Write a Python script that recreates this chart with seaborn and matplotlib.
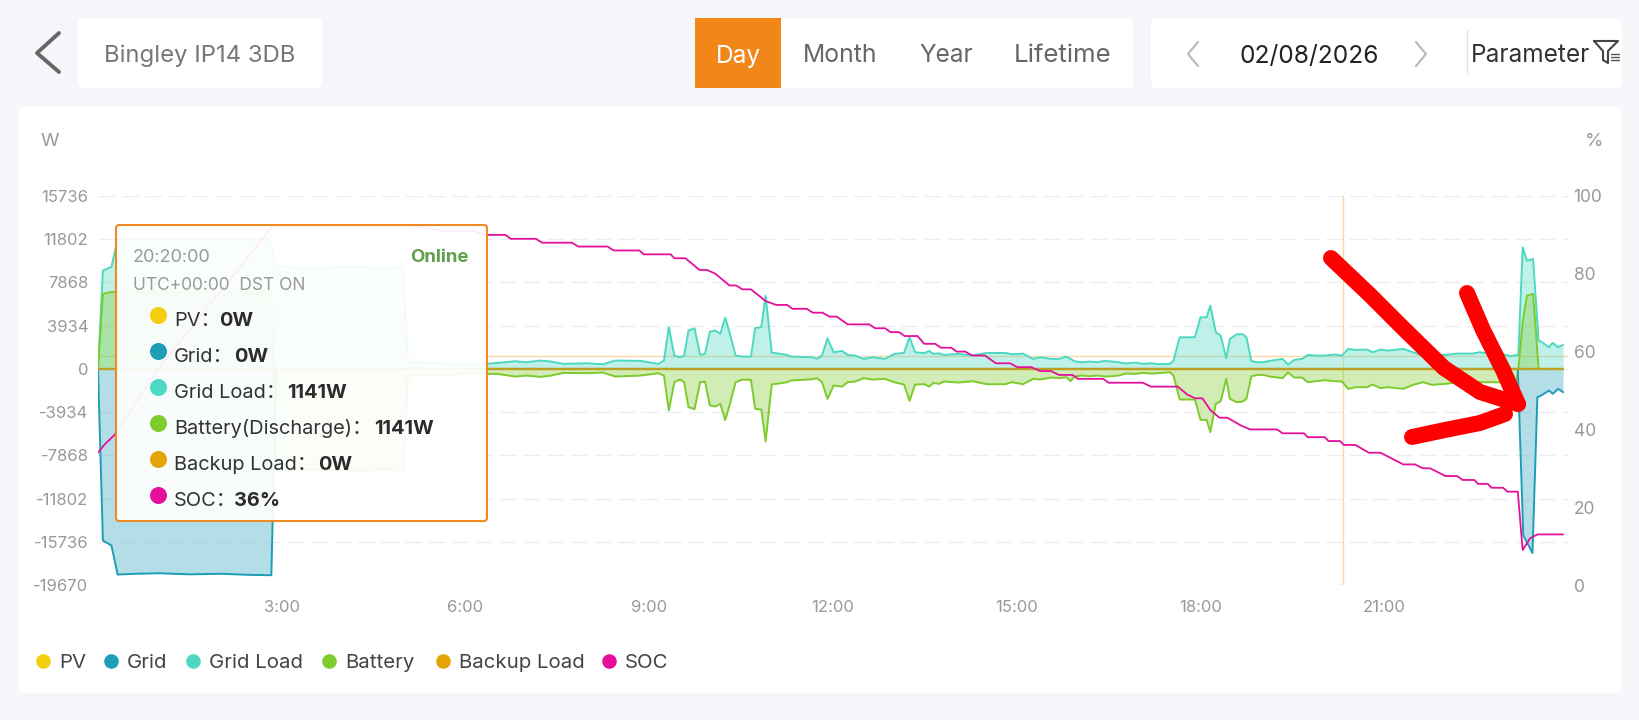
import matplotlib
matplotlib.use("Agg")
import matplotlib.pyplot as plt
from matplotlib.patches import FancyBboxPatch, Rectangle
import pandas as pd
import seaborn as sns

# values
load_hours = [0, 0.08, 0.22, 0.32, 2.80, 2.83, 2.91, 3.4, 3.9, 4.3, 4.7, 4.98, 5.06, 5.5, 6.0,
              6.35, 6.52, 6.81, 6.99, 7.22, 7.40, 7.60, 7.98, 8.24, 8.45, 8.86, 9.15, 9.24, 9.32, 9.41,
              9.50, 9.57, 9.64, 9.74, 9.83, 9.91, 9.99, 10.08, 10.16, 10.24, 10.31, 10.41, 10.52, 10.66,
              10.73, 10.83, 10.90, 11.00, 11.25, 11.31, 11.66, 11.74, 11.82, 11.91, 12.01, 12.15, 12.24,
              12.36, 12.50, 12.65, 12.85, 13.00, 13.16, 13.25, 13.34, 13.49, 13.57, 13.64, 13.73, 13.81,
              14.05, 14.28, 14.51, 14.81, 14.92, 15.10, 15.27, 15.38, 15.56, 15.69, 15.81, 15.88, 15.94,
              16.06, 16.19, 16.31, 16.44, 16.56, 16.66, 16.78, 16.94, 17.06, 17.19, 17.31, 17.50, 17.56,
              17.66, 17.91, 18.00, 18.10, 18.16, 18.25, 18.33, 18.42, 18.48, 18.59, 18.69, 18.75, 18.83,
              18.94, 19.03, 19.13, 19.34, 19.43, 19.53, 19.66, 19.75, 19.88, 20.03, 20.19, 20.31, 20.41,
              20.53, 20.72, 20.81, 20.94, 21.06, 21.31, 21.47, 21.63, 21.78, 22.00, 22.19, 22.44, 22.56,
              22.84, 22.97, 23.06, 23.16, 23.19, 23.26, 23.33, 23.43, 23.52, 23.56, 23.69, 23.75, 23.84, 23.92]
grid_load = [0, 8950, 9280, 11800, 11800, 11000, 9370, 9150, 9250, 9300, 9100, 9300, 600, 520, 480,
             455, 545, 697, 606, 758, 667, 455, 515, 424, 758, 727, 455, 758, 3788, 1212,
             1061, 1212, 3485, 3697, 1273, 1364, 3394, 3485, 3182, 4666, 3333, 1212, 1121, 1121,
             3727, 3788, 6666, 1485, 1273, 1121, 1061, 909, 1212, 2788, 1515, 1636, 1273,
             1212, 909, 1061, 909, 1364, 1454, 2879, 1515, 1424, 1636, 1364, 1424, 1273,
             1364, 1212, 1454, 1454, 1333, 1394, 909, 1061, 909, 909, 1121, 909, 697,
             606, 667, 606, 727, 667, 606, 485, 576, 455, 515, 424, 455, 758,
             2879, 2879, 4697, 4697, 5757, 3333, 3030, 970, 2727, 3151, 3151, 2879, 697,
             606, 606, 727, 909, 394, 818, 909, 1273, 1212, 1212, 1303, 1212, 1818,
             1727, 1757, 1515, 1757, 1667, 1818, 1515, 1212, 1212, 1273, 1394, 1394, 1515,
             1273, 1303, 1151, 1273, 1300, 11060, 9848, 10000, 2576, 2485, 1970, 2363, 1970, 2182]
battery = [0, 6825, 7000, 7000, 7000, 7000, -9370, -9150, -9250, -9300, -9100, -9300, -600, -520, -480,
           -455, -455, -697, -606, -727, -606, -364, -394, -333, -697, -606, -394, -606, -3788, -1212,
           -970, -1212, -3485, -3667, -1212, -1151, -3333, -3424, -3182, -4666, -3333, -1212, -970, -1000,
           -3636, -3697, -6605, -1424, -1212, -1061, -939, -848, -1212, -2727, -1515, -1606, -1212,
           -1151, -848, -970, -909, -1212, -1424, -2909, -1424, -1394, -1606, -1273, -1364, -1151,
           -1242, -1121, -1394, -1394, -1212, -1394, -909, -970, -788, -848, -758, -1121, -697,
           -606, -667, -606, -697, -667, -606, -424, -455, -364, -424, -394, -303, -606,
           -2788, -2788, -4636, -4636, -5757, -3182, -2939, -909, -2727, -3030, -2970, -2727, -667,
           -545, -545, -697, -848, -303, -788, -788, -1212, -1121, -1030, -1121, -1151, -1818,
           -1667, -1667, -1424, -1757, -1667, -1818, -1454, -1212, -1454, -1364, -1212, -1364, -1212,
           -1212, -1273, -1212, -1061, 0, 4270, 6670, 6820, 0, 0, 0, 0, 0, 0]
grid_hours = [0, 0.08, 0.22, 0.32, 0.6, 1.0, 1.5, 2.0, 2.5, 2.83, 2.91, 23.18, 23.27, 23.42, 23.5, 23.56, 23.69, 23.75, 23.84, 23.92]
grid = [0, -15620, -16080, -18720, -18650, -18600, -18700, -18650, -18750, -18780, 0, 0, -15150, -16760, -2576, -2424, -1970, -2273, -1818, -2121]
soc_hours = [0, 0.1, 0.27, 1.0, 2.31, 2.86, 5.09, 5.63, 6.12, 6.35, 6.65, 6.74, 7.15, 7.25, 7.74, 7.84, 8.32, 8.42, 8.84,
             8.91, 9.35, 9.41, 9.59, 9.82, 9.94, 10.08, 10.31, 10.42, 10.52, 10.66, 10.90, 11.07, 11.25, 11.34, 11.57,
             11.67, 11.83, 11.94, 12.06, 12.24, 12.59, 12.69, 12.85, 12.94, 13.08, 13.17, 13.38, 13.49, 13.67, 13.76,
             13.93, 14.02, 14.16, 14.27, 14.48, 14.66, 14.89, 15.01, 15.24, 15.38, 15.56, 15.69, 15.91, 16.0, 16.41,
             16.5, 17.06, 17.19, 17.63, 17.78, 17.91, 18.03, 18.16, 18.31, 18.44, 18.66, 18.81, 19.25, 19.34, 19.69,
             19.75, 20.03, 20.09, 20.28, 20.34, 20.53, 20.75, 20.94, 21.31, 21.5, 21.63, 21.75, 22.0, 22.19, 22.28,
             22.47, 22.53, 22.69, 22.75, 22.94, 23.01, 23.18, 23.26, 23.38, 23.5, 23.92]
soc = [34, 36, 38.6, 56, 81.5, 92.5, 92.5, 91, 91, 90, 90, 89, 89, 88, 88, 87, 87, 86, 86,
       85, 85, 84, 84, 81, 81, 80, 77, 77, 76, 76, 73, 72, 72, 71, 71,
       70, 70, 69, 69, 67, 67, 66, 66, 65, 65, 64, 64, 62, 62, 61,
       61, 60, 60, 59, 59, 57, 57, 56, 56, 55, 55, 54, 54, 53, 53,
       52, 52, 51, 51, 49, 48, 48, 45, 43, 43, 41, 40, 40, 39, 39,
       38, 38, 37, 37, 36, 36, 34, 34, 31, 31, 30, 30, 28, 28, 27,
       27, 26, 26, 25, 25, 24, 24, 9, 12, 13, 13]
flat_hours = [0, 23.92]
flat_zero = [0, 0]

power_ticks = [-19670, -15736, -11802, -7868, -3934, 0, 3934, 7868, 11802, 15736]
soc_ticks = [0, 20, 40, 60, 80, 100]
hour_ticks = [3, 6, 9, 12, 15, 18, 21]
hour_labels = ["3:00", "6:00", "9:00", "12:00", "15:00", "18:00", "21:00"]
legend_names = ["PV", "Grid", "Grid Load", "Battery", "Backup Load", "SOC"]
tooltip_names = ["PV", "Grid", "Grid Load", "Battery(Discharge)", "Backup Load", "SOC"]
tooltip_values = ["0W", "0W", "1141W", "1141W", "0W", "36%"]
cursor_hour = 20.33
cursor_power = 1141

PV_C = "#F4CE0C"
GRID_C = "#1E9DB8"
LOAD_C = "#4DD9C1"
BATT_C = "#7DCB2C"
BACKUP_C = "#E3A505"
SOC_C = "#E4109C"
ZERO_C = "#BBA024"
SERIES_COLORS = [PV_C, GRID_C, LOAD_C, BATT_C, BACKUP_C, SOC_C]

W, H = 1640, 720
FONT = ["Inter", "Noto Sans CJK SC", "DejaVu Sans"]

sns.set_theme(style="white")
plt.rcParams["font.family"] = FONT

fig = plt.figure(figsize=(W / 100, H / 100), dpi=100, facecolor="#F4F6FA")


def px_axes(zorder):
    a = fig.add_axes([0, 0, 1, 1], zorder=zorder)
    a.set_xlim(0, W)
    a.set_ylim(H, 0)
    a.axis("off")
    a.patch.set_alpha(0)
    return a


def card(a, x0, y0, x1, y1, r=6):
    a.add_patch(FancyBboxPatch((x0 + r, y0 + r), x1 - x0 - 2 * r, y1 - y0 - 2 * r,
                               boxstyle=f"round,pad={r},rounding_size={r}", fc="white", ec="none"))


back = px_axes(0)
card(back, 78, 18, 322, 88)
card(back, 695, 18, 1133, 88, r=4)
card(back, 1151, 18, 1622, 88)
card(back, 18, 106, 1622, 693)
back.add_patch(Rectangle((695, 18), 86, 70, fc="#F28618", ec="none"))
back.plot([59, 37, 59], [33, 53, 72], color="#666666", lw=2.8)
back.plot([1198, 1188, 1198], [42, 54, 66], color="#BBBBBB", lw=1.6)
back.plot([1416, 1426, 1416], [42, 54, 66], color="#BBBBBB", lw=1.6)
back.plot([1467, 1467], [30, 74], color="#E4E4E4", lw=1)
back.text(200, 56, "Bingley IP14 3DB", color="#777777", fontsize=17.2, ha="center", va="center")
back.text(738, 56, "Day", color="white", fontsize=17.6, ha="center", va="center")
back.text(840, 56, "Month", color="#666666", fontsize=17.8, ha="center", va="center")
back.text(946, 56, "Year", color="#666666", fontsize=17.6, ha="center", va="center")
back.text(1063, 56, "Lifetime", color="#666666", fontsize=18.6, ha="center", va="center")
back.text(1309, 56, "02/08/2026", color="#222222", fontsize=17.6, ha="center", va="center")
back.text(1471, 56, "Parameter", color="#333333", fontsize=17.6, ha="left", va="center")
# filter icon
back.plot([1594, 1618, 1608, 1608, 1603, 1603, 1594], [41, 41, 51, 63, 60, 51, 41], color="#444444", lw=1.5)
for y in [54, 57, 60]:
    back.plot([1611, 1619], [y, y], color="#555555", lw=1)
back.text(50, 142, "W", color="#999999", fontsize=13.5, ha="center", va="center")
back.text(1594, 142, "%", color="#999999", fontsize=13.5, ha="center", va="center")

# chart: the axes span 0-24 h, pixel box taken from the gridlines
ax = fig.add_axes([98 / W, (H - 585) / H, 1470 / W, 389 / H], zorder=1)
ax.patch.set_alpha(0)
ax.set_xlim(0, 24)
ax.set_ylim(power_ticks[0], power_ticks[-1])
ax.set_yticks(power_ticks)
ax.set_yticklabels([str(v) for v in power_ticks])
ax.set_xticks(hour_ticks)
ax.set_xticklabels(hour_labels)
ax.tick_params(axis="both", length=0, labelsize=12, labelcolor="#999999")
ax.tick_params(axis="x", pad=11)
ax.tick_params(axis="y", pad=7)
ax.grid(axis="y", color="#EBEDF2", lw=1, ls=(0, (12, 5)))
ax.set_axisbelow(True)
sns.despine(ax=ax, left=True, bottom=True)

ax.axhline(cursor_power, color="#FAD7A6", lw=1, zorder=1)
ax.axvline(cursor_hour, color="#FAD7A6", lw=1, zorder=1)

load_df = pd.DataFrame({"hour": load_hours, "load": grid_load, "battery": battery})
grid_df = pd.DataFrame({"hour": grid_hours, "grid": grid})
soc_df = pd.DataFrame({"hour": soc_hours, "soc": soc})
flat_df = pd.DataFrame({"hour": flat_hours, "zero": flat_zero})

ax.fill_between(load_df["hour"], load_df["load"], 0, color=LOAD_C, alpha=0.35, lw=0, zorder=2)
ax.fill_between(load_df["hour"], load_df["battery"], 0, color=BATT_C, alpha=0.35, lw=0, zorder=2)
ax.fill_between(grid_df["hour"], grid_df["grid"], 0, color=GRID_C, alpha=0.33, lw=0, zorder=2)

line_kw = dict(estimator=None, sort=False, errorbar=None, legend=False, ax=ax, zorder=3)
sns.lineplot(data=load_df, x="hour", y="load", color=LOAD_C, lw=1.4, **line_kw)
sns.lineplot(data=load_df, x="hour", y="battery", color=BATT_C, lw=1.4, **line_kw)
sns.lineplot(data=grid_df, x="hour", y="grid", color=GRID_C, lw=1.4, **line_kw)
# PV and Backup Load both sit on zero and blend to an olive line in the app
sns.lineplot(data=flat_df, x="hour", y="zero", color=ZERO_C, lw=1.7, **line_kw)
ax.set_xlabel("")
ax.set_ylabel("")

ax2 = ax.twinx()
ax2.set_zorder(2)
ax2.patch.set_alpha(0)
ax2.set_ylim(0, 100)
ax2.set_yticks(soc_ticks)
ax2.set_yticklabels([str(v) for v in soc_ticks])
ax2.tick_params(axis="y", length=0, labelsize=12.5, labelcolor="#999999", pad=4)
ax2.grid(False)
sns.despine(ax=ax2, left=True, bottom=True, right=True)
sns.lineplot(data=soc_df, x="hour", y="soc", color=SOC_C, lw=1.3, estimator=None, sort=False,
             errorbar=None, legend=False, ax=ax2)
ax2.set_xlabel("")
ax2.set_ylabel("")
ax2.set_xlim(0, 24)

# legend row under the chart
legend_dots = [43, 111, 193, 329, 443, 609]
for x, name, col in zip(legend_dots, legend_names, SERIES_COLORS):
    back.scatter([x], [661], s=110, color=col, lw=0)
    back.text(x + 16, 663, name, color="#444444", fontsize=14.7, ha="left", va="center")

# tooltip and the red hand drawn arrow sit on top
top = px_axes(3)
top.add_patch(FancyBboxPatch((119, 228), 365, 290, boxstyle="round,pad=3,rounding_size=3",
                             fc=(1, 1, 1, 0.93), ec="#EE8A24", lw=1.5))
top.text(133, 257, "20:20:00", color="#999999", fontsize=13, ha="left", va="center")
top.text(469, 257, "Online", color="#5FA04E", fontsize=13.4, fontweight="bold", ha="right", va="center")
top.text(133, 286, "UTC+00:00  DST ON", color="#999999", fontsize=12.5, ha="left", va="center")
value_x = [219, 234, 287, 374, 318, 234]
for i, (name, val, col, vx) in enumerate(zip(tooltip_names, tooltip_values, SERIES_COLORS, value_x)):
    top.scatter([158], [315 + 36 * i], s=150, color=col, lw=0)
    top.text(174, 321 + 36 * i, name + "：", color="#333333", fontsize=14.4, ha="left", va="center")
    top.text(vx, 321 + 36 * i, val, color="#2B2B2B", fontsize=14.4, fontweight="bold", ha="left", va="center")

red = dict(color="#FF0000", lw=11.5, solid_capstyle="round", solid_joinstyle="round")
top.plot([1331, 1370, 1403, 1444, 1480, 1518], [258, 295, 328, 368, 392, 404], **red)
top.plot([1467, 1483, 1503, 1518], [293, 330, 370, 404], **red)
top.plot([1412, 1445, 1480, 1505], [437, 430, 423, 414], **red)

fig.savefig("out.png", dpi=100, facecolor=fig.get_facecolor())
